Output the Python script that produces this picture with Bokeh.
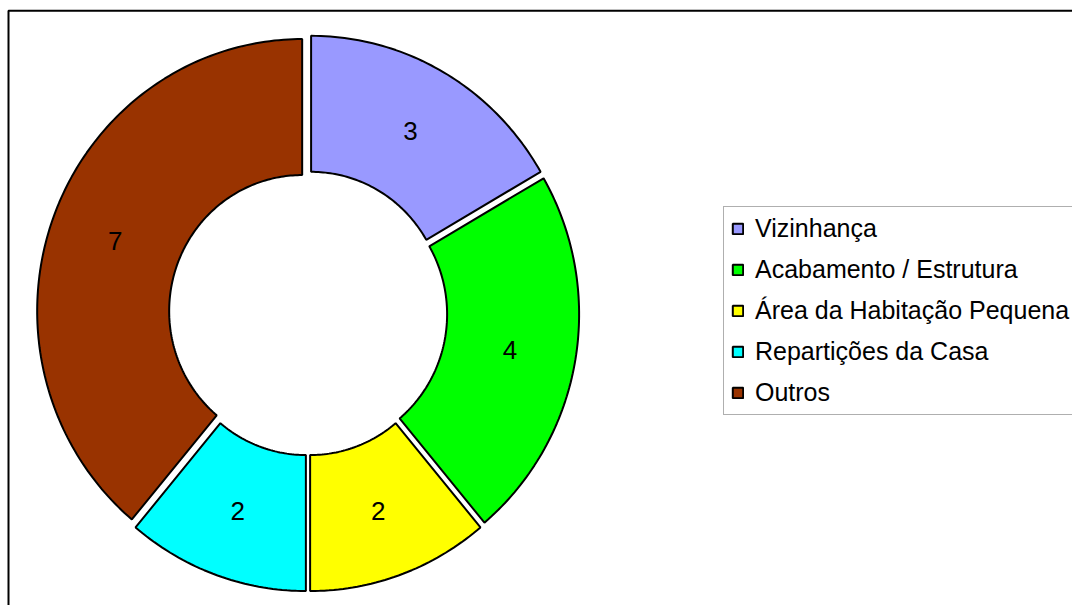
import numpy as np
from bokeh.plotting import figure
from bokeh.models import ColumnDataSource, Range1d, Legend, LegendItem, BoxAnnotation
from bokeh.core.properties import value
from bokeh.embed import file_html
from bokeh.resources import INLINE

# ---- data ----
categories = ["Vizinhança", "Acabamento / Estrutura", "Área da Habitação Pequena",
              "Repartições da Casa", "Outros"]
values = [3, 4, 2, 2, 7]
colors = ["#9999FF", "#00FF00", "#FFFF00", "#00FFFF", "#993300"]

# ---- geometry (screen-like coordinates, y downward) ----
W, H = 1072, 605
CX, CY = 307.5, 312.7
RX_OUT, RY_OUT = 265.0, 272.0
RX_IN, RY_IN = 133.0, 136.0
EXPLODE = 6.2

total = float(sum(values))
spans = np.array(values) / total * 2 * np.pi
ends = np.cumsum(spans)
starts = ends - spans
mids = (starts + ends) / 2

xs, ys, lx, ly = [], [], [], []
for a0, a1, m in zip(starts, ends, mids):
    n = max(int(np.degrees(a1 - a0)), 4)
    t = np.linspace(a0, a1, n)
    ox, oy = EXPLODE * np.sin(m), -EXPLODE * np.cos(m)
    x = np.concatenate([CX + RX_OUT * np.sin(t), CX + RX_IN * np.sin(t[::-1])]) + ox
    y = np.concatenate([CY - RY_OUT * np.cos(t), CY - RY_IN * np.cos(t[::-1])]) + oy
    xs.append(x.tolist())
    ys.append(y.tolist())
    lx.append(CX + (RX_OUT + RX_IN) / 2 * np.sin(m) + ox)
    ly.append(CY - (RY_OUT + RY_IN) / 2 * np.cos(m) + oy)

src = ColumnDataSource(dict(xs=xs, ys=ys, color=colors, cat=categories))
lsrc = ColumnDataSource(dict(x=lx, y=ly, text=[str(v) for v in values]))

p = figure(width=W, height=H, x_range=Range1d(0, W), y_range=Range1d(H, 0),
           output_backend="svg", toolbar_location=None,
           x_axis_type=None, y_axis_type=None, min_border=0,
           outline_line_color=None, background_fill_color="white",
           border_fill_color="white")
p.xgrid.visible = False
p.ygrid.visible = False

# outer frame (only left and top edges fall inside the window)
p.add_layout(BoxAnnotation(left=8, top=10.3, right=W + 20, bottom=H + 20,
                           fill_alpha=0, line_color="black", line_width=2,
                           line_alpha=1.0, level="underlay"))

r = p.patches("xs", "ys", source=src, fill_color="color", line_color="black",
              line_width=2)

p.text("x", "y", text="text", source=lsrc, text_align="center",
       text_baseline="middle", text_font=value("Liberation Sans"),
       text_font_size="26px", text_color="black")

legend = Legend(
    items=[LegendItem(label=c, renderers=[r], index=i) for i, c in enumerate(categories)],
    location=(723, 190), padding=7, spacing=12, label_height=29, label_width=340,
    glyph_width=13, glyph_height=13, label_standoff=11, margin=0,
    border_line_color="#606060", border_line_width=1.5,
    label_text_font="Liberation Sans", label_text_font_size="25px",
    label_text_color="black", background_fill_color="white", background_fill_alpha=1.0,
)
p.add_layout(legend)

open("out.html", "w").write(file_html(p, INLINE))
